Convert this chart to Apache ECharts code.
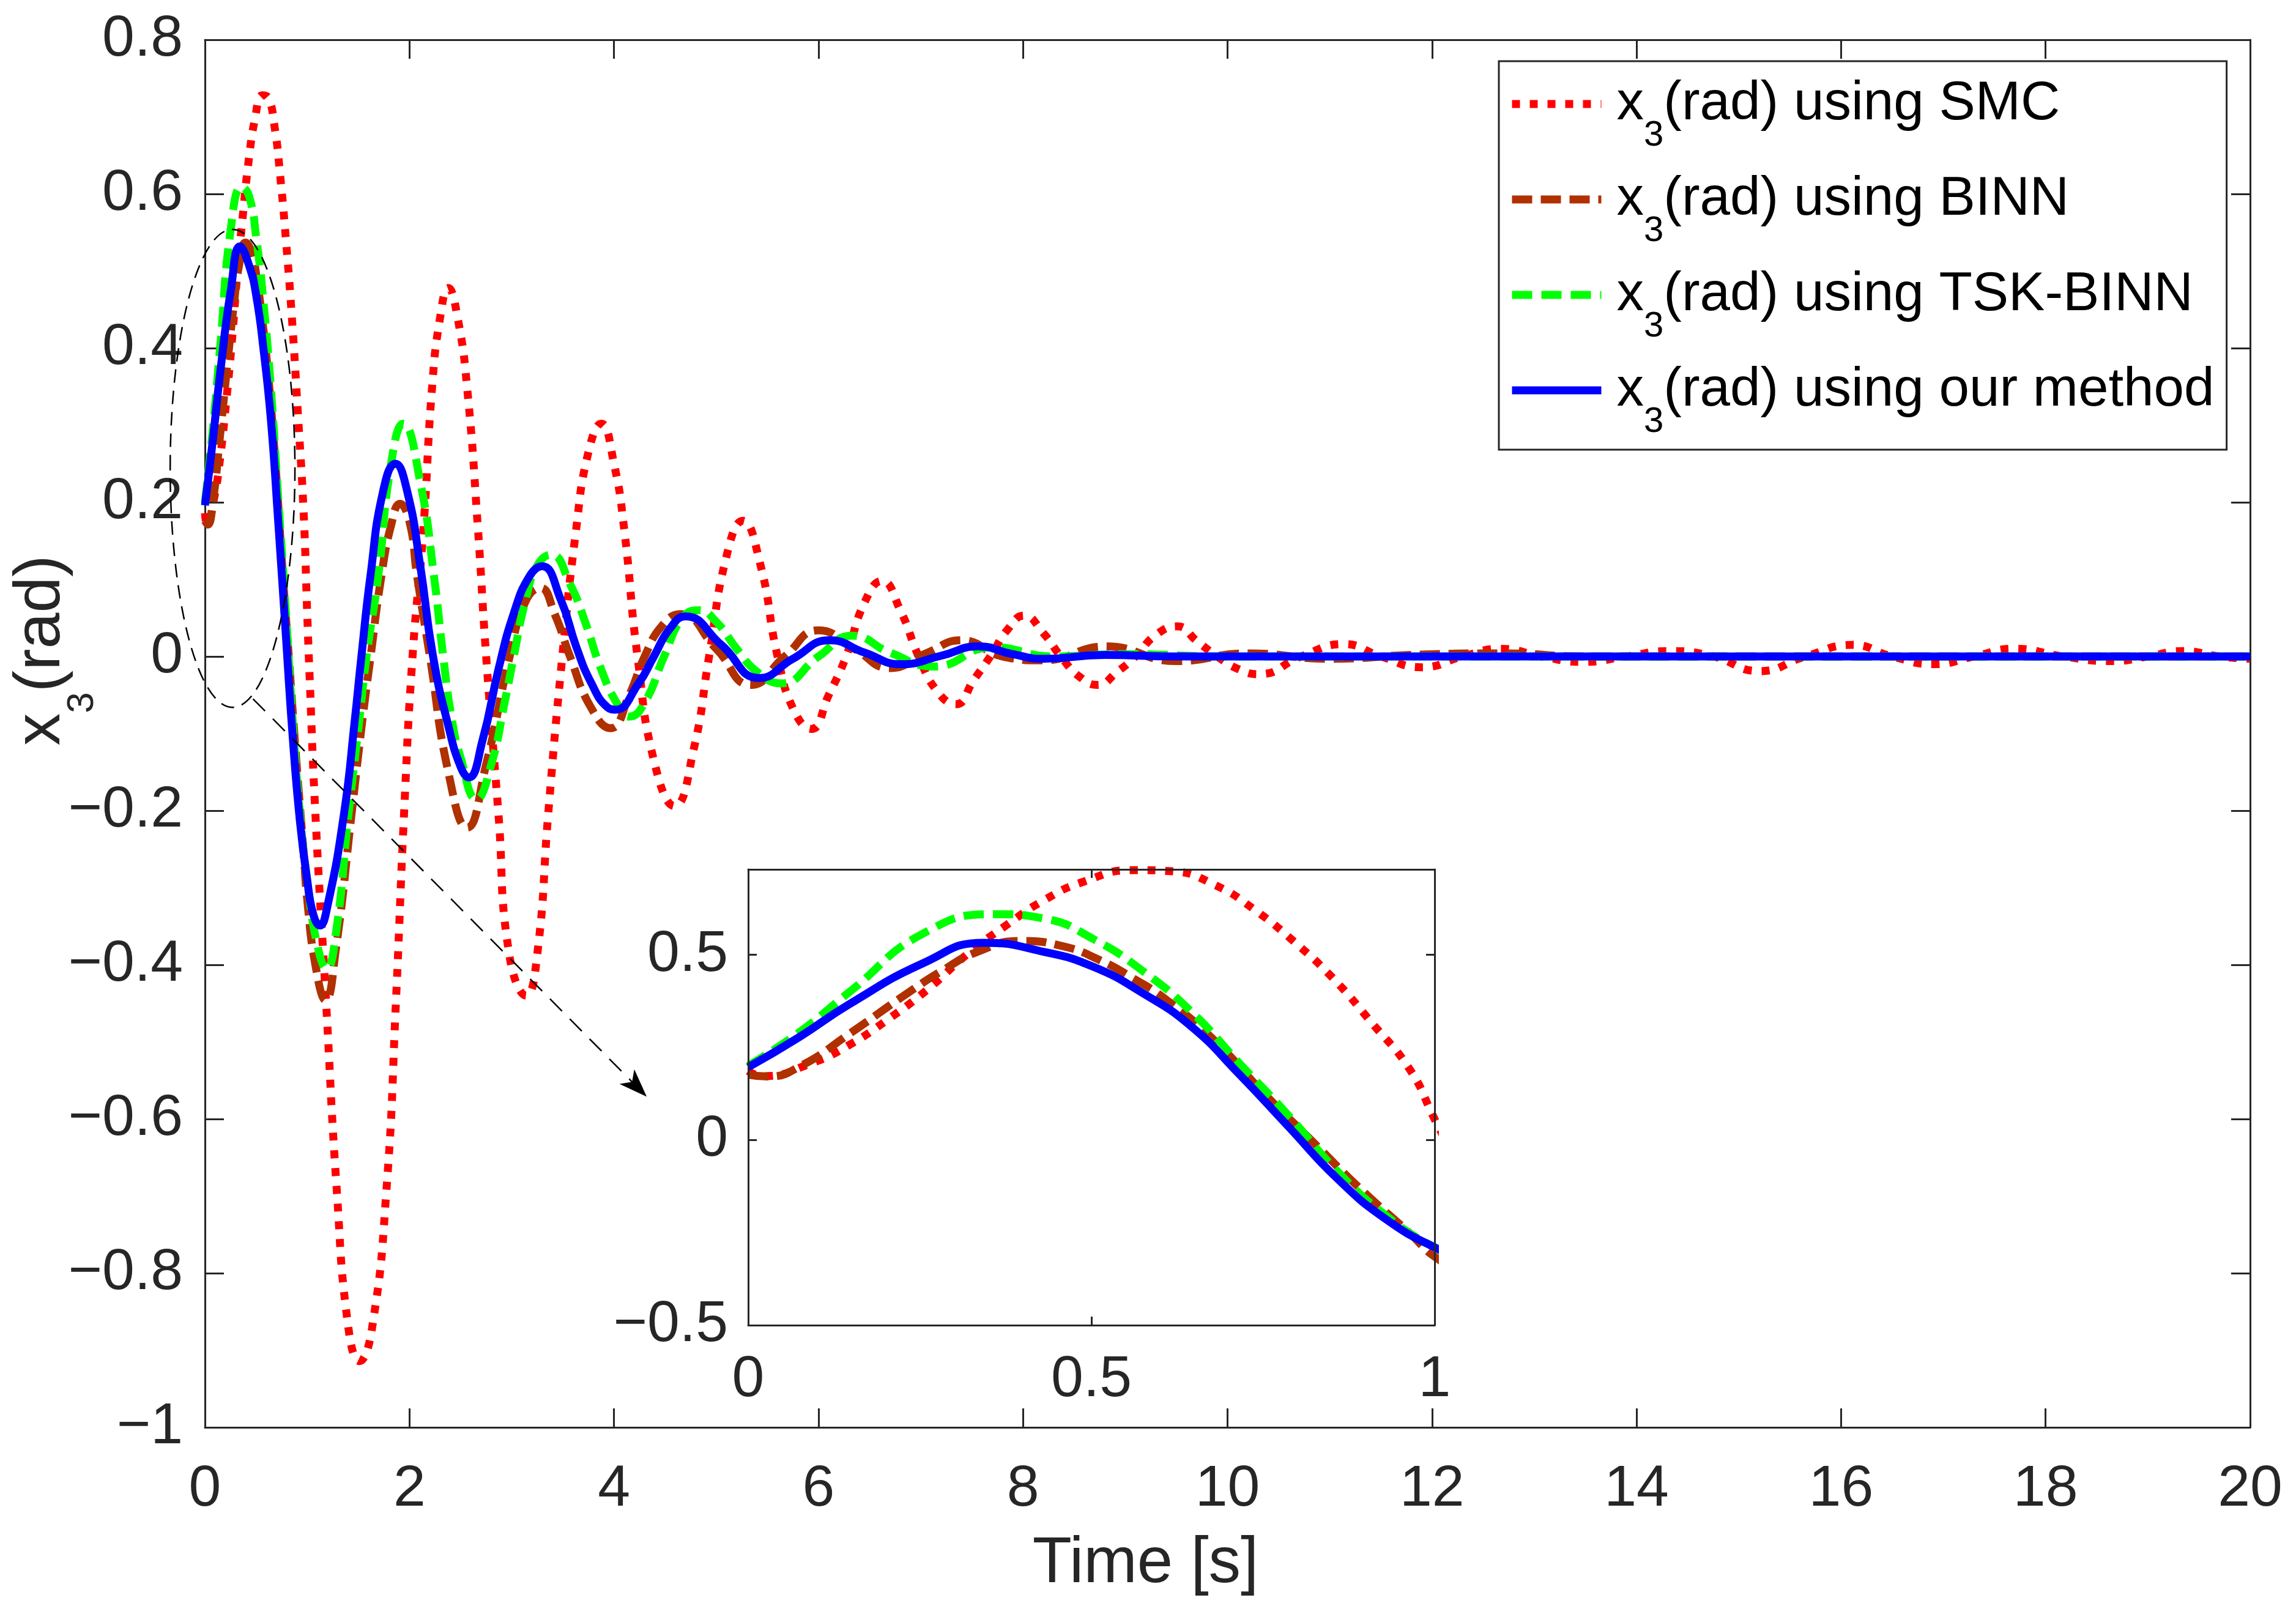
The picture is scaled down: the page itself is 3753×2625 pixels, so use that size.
<!DOCTYPE html>
<html>
<head>
<meta charset="utf-8">
<title>x3 response</title>
<script src="https://cdn.jsdelivr.net/npm/echarts@6.0.0/dist/echarts.min.js"></script>
<style>
  html, body { margin: 0; padding: 0; background: #fff; }
  #main { width: 3753px; height: 2625px; }
</style>
</head>
<body>
<div id="main"></div>
<script>
// methods shown in the legend
var methods = ['SMC', 'BINN', 'TSK-BINN', 'our method'];

// x3 [rad] over time [s]
var smc = [[0,0.186],[0.021,0.172],[0.092,0.207],[0.148,0.257],[0.205,0.327],[0.262,0.407],[0.319,0.501],
  [0.375,0.578],[0.432,0.648],[0.489,0.697],[0.56,0.728],[0.617,0.725],[0.681,0.687],[0.737,0.622],
  [0.794,0.537],[0.851,0.438],[0.908,0.317],[0.965,0.187],[1.0,0.056],[1.022,-0.021],[1.08,-0.204],
  [1.184,-0.447],[1.288,-0.69],[1.404,-0.872],[1.511,-0.914],[1.633,-0.872],[1.776,-0.69],[1.868,-0.447],
  [1.947,-0.204],[2.03,0.0],[2.136,0.165],[2.22,0.347],[2.3,0.44],[2.38,0.478],[2.47,0.44],[2.565,0.347],
  [2.67,0.165],[2.75,0.0],[2.87,-0.204],[2.975,-0.386],[3.143,-0.44],[3.25,-0.386],[3.357,-0.204],
  [3.48,-0.02],[3.63,0.165],[3.75,0.265],[3.876,0.302],[4.0,0.25],[4.1,0.165],[4.23,0.0],[4.4,-0.14],
  [4.592,-0.194],[4.78,-0.12],[4.93,0.0],[5.1,0.13],[5.259,0.176],[5.43,0.12],[5.6,0.0],[5.76,-0.07],
  [5.93,-0.094],[6.1,-0.05],[6.27,0.0],[6.45,0.07],[6.62,0.098],[6.8,0.06],[6.98,0.0],[7.16,-0.045],
  [7.344,-0.062],[7.52,-0.03],[7.68,0.0],[7.85,0.035],[8.01,0.053],[8.2,0.03],[8.37,0.0],[8.55,-0.026],
  [8.73,-0.037],[8.92,-0.02],[9.1,0.0],[9.3,0.028],[9.51,0.039],[9.7,0.02],[9.9,0.0],[10.1,-0.016],
  [10.31,-0.023],[10.72,0.0],[11.14,0.016],[11.5,0.0],[11.9,-0.014],[12.3,0.0],[12.67,0.01],[13.07,0.0],
  [13.47,-0.007],[13.9,0.0],[14.32,0.007],[14.75,0.0],[15.2,-0.019],[15.65,0.0],[16.11,0.015],[16.5,0.0],
  [16.91,-0.01],[17.3,0.0],[17.69,0.01],[18.17,0.0],[18.65,-0.006],[19.0,0.0],[19.34,0.007],[19.7,0.0],
  [20,-0.003]];

var binn = [[0,0.176],[0.028,0.171],[0.077,0.2],[0.148,0.287],[0.233,0.397],[0.283,0.457],[0.333,0.507],
  [0.397,0.537],[0.46,0.522],[0.51,0.487],[0.56,0.437],[0.61,0.377],[0.68,0.267],[0.751,0.126],
  [0.822,-0.004],[0.893,-0.134],[0.965,-0.254],[1.0,-0.315],[1.08,-0.4],[1.18,-0.446],[1.28,-0.38],
  [1.434,-0.204],[1.54,-0.082],[1.62,0.0],[1.725,0.104],[1.82,0.17],[1.907,0.198],[2.0,0.175],
  [2.075,0.104],[2.2,0.0],[2.38,-0.15],[2.564,-0.222],[2.75,-0.14],[2.98,0.0],[3.13,0.07],[3.28,0.089],
  [3.42,0.055],[3.57,0.0],[3.77,-0.065],[3.967,-0.093],[4.15,-0.05],[4.3,0.0],[4.47,0.04],[4.65,0.055],
  [5.0,0.01],[5.34,-0.037],[5.67,0.0],[6.0,0.034],[6.35,0.01],[6.7,-0.015],[7.05,0.004],[7.4,0.021],
  [7.8,0.0],[8.2,-0.005],[8.81,0.013],[9.5,-0.006],[10.2,0.004],[11.0,-0.003],[11.8,0.002],[12.7,0.004],
  [13.5,0.0],[20,0.0]];

var tskBinn = [[0,0.2],[0.074,0.29],[0.148,0.4],[0.255,0.557],[0.36,0.609],[0.432,0.597],[0.503,0.542],
  [0.574,0.457],[0.645,0.347],[0.716,0.206],[0.787,0.066],[0.858,-0.084],[0.929,-0.204],[1.0,-0.29],
  [1.1,-0.375],[1.19,-0.405],[1.28,-0.36],[1.404,-0.204],[1.51,-0.082],[1.58,0.0],[1.694,0.104],
  [1.82,0.25],[1.938,0.302],[2.106,0.226],[2.24,0.104],[2.33,0.0],[2.41,-0.078],[2.5,-0.131],
  [2.655,-0.185],[2.8,-0.14],[2.93,-0.06],[3.02,0.0],[3.13,0.07],[3.25,0.118],[3.387,0.132],
  [3.57,0.094],[3.72,0.044],[3.87,-0.015],[4.03,-0.061],[4.15,-0.078],[4.3,-0.06],[4.49,0.0],
  [4.67,0.05],[4.833,0.06],[5.0,0.045],[5.2,0.01],[5.4,-0.02],[5.635,-0.035],[6.0,0.0],[6.33,0.027],
  [6.7,0.005],[7.13,-0.013],[7.7,0.012],[8.3,0.0],[9.0,0.003],[10,0.0],[20,0.0]];

var ours = [[0,0.196],[0.074,0.277],[0.148,0.367],[0.255,0.477],[0.343,0.532],[0.432,0.507],[0.503,0.467],
  [0.574,0.397],[0.645,0.307],[0.716,0.176],[0.787,0.036],[0.858,-0.104],[0.929,-0.214],[1.0,-0.29],
  [1.06,-0.335],[1.123,-0.349],[1.196,-0.325],[1.36,-0.204],[1.466,-0.082],[1.53,0.0],[1.618,0.104],
  [1.74,0.213],[1.862,0.25],[1.98,0.213],[2.106,0.117],[2.228,0.002],[2.38,-0.09],[2.503,-0.144],
  [2.579,-0.157],[2.716,-0.108],[2.87,-0.017],[3.02,0.056],[3.174,0.104],[3.296,0.117],[3.479,0.074],
  [3.63,0.013],[3.78,-0.035],[3.937,-0.066],[4.013,-0.069],[4.24,-0.035],[4.39,0.0],[4.546,0.036],
  [4.7,0.052],[5.05,0.015],[5.42,-0.028],[5.75,-0.003],[6.11,0.021],[6.45,0.005],[6.81,-0.01],
  [7.2,0.001],[7.56,0.013],[7.9,0.003],[8.2,-0.003],[8.8,0.002],[9.5,0.0],[12,0.0],[20,0.0]];

// annotation anchors, in data units of the main plot
var ellipseCenter = [0.27, 0.244];
var ellipseRadius = [0.61, 0.31];
var arrowFrom = [0.47, -0.055];
var arrowTo = [4.32, -0.571];

var FONT = "'Liberation Sans', Arial, Helvetica, sans-serif";
var INK = '#262626';

function minus(s) { return String(s).replace('-', '\u2212'); }

function frameAxis(grid, pos, min, max, interval, tickLen, labelOpt, z) {
  return {
    type: 'value', gridIndex: grid, position: pos, min: min, max: max, interval: interval,
    z: z || 0,
    axisLine: { show: true, onZero: false, lineStyle: { color: INK, width: 3 } },
    axisTick: { show: true, inside: true, length: tickLen, lineStyle: { color: INK, width: 3 } },
    splitLine: { show: false },
    axisLabel: labelOpt || { show: false }
  };
}

var tickFont = { fontFamily: FONT, fontSize: 95, color: INK };

var xMain = frameAxis(0, 'bottom', 0, 20, 2, 31,
  Object.assign({ show: true, margin: 54, formatter: function (v) { return minus(v); } }, tickFont));
xMain.name = 'Time [s]';
xMain.nameLocation = 'middle';
xMain.nameGap = 172;
xMain.nameMoveOverlap = false;
xMain.nameTextStyle = { fontFamily: FONT, fontSize: 105, color: INK, padding: [0, 268, 0, 0] };

var yMain = frameAxis(0, 'left', -1, 0.8, 0.2, 31,
  Object.assign({ show: true, margin: 36, formatter: function (v) { return minus(Math.round(v * 10) / 10); } }, tickFont));
yMain.name = '{x|x}{s|3}{x|(rad)}';
yMain.nameLocation = 'middle';
yMain.nameGap = 214;
yMain.nameMoveOverlap = false;
yMain.nameTextStyle = {
  fontFamily: FONT, fontSize: 106, color: INK, padding: [0, 0, 0, 272],
  rich: {
    x: { fontFamily: FONT, fontSize: 106, lineHeight: 106, verticalAlign: 'top', color: INK },
    s: { fontFamily: FONT, fontSize: 62, lineHeight: 62, verticalAlign: 'top', padding: [89, 0, 0, 0], color: INK }
  }
};

var xInset = frameAxis(1, 'bottom', 0, 1, 0.5, 14,
  Object.assign({ show: true, margin: 42, formatter: function (v) { return minus(v); } }, tickFont), 14);
var yInset = frameAxis(1, 'left', -0.5, 0.73, 0.5, 14,
  Object.assign({ show: true, margin: 33, formatter: function (v) {
    var r = Math.round(v * 2) / 2;
    return Math.abs(v - r) > 1e-6 ? '' : minus(r);
  } }, tickFont), 14);

var styles = {
  'SMC': { color: '#FF0000', dash: [13, 16] },
  'BINN': { color: '#B03000', dash: [33, 14] },
  'TSK-BINN': { color: '#00FF00', dash: [33, 15] },
  'our method': { color: '#0000FF', dash: 'solid' }
};
var seriesData = { 'SMC': smc, 'BINN': binn, 'TSK-BINN': tskBinn, 'our method': ours };

var series = [];
[0, 1].forEach(function (g) {
  methods.forEach(function (m, i) {
    series.push({
      name: m, type: 'line', data: seriesData[m],
      xAxisIndex: g === 0 ? 0 : 2, yAxisIndex: g === 0 ? 0 : 2,
      symbol: 'none', smooth: 0.5, clip: true,
      z: (g === 0 ? 2 : 10) + i, animation: false,
      color: styles[m].color,
      lineStyle: { color: styles[m].color, width: 13, type: styles[m].dash, cap: 'butt' }
    });
  });
});

var option = {
  backgroundColor: '#fff',
  animation: false,
  grid: [
    { left: 335, top: 65, width: 3343, height: 2268, outerBoundsMode: 'none', containLabel: false },
    { left: 1223, top: 1421, width: 1122, height: 745, outerBoundsMode: 'none', containLabel: false,
      show: true, backgroundColor: '#fff', borderWidth: 0, z: 6 }
  ],
  xAxis: [
    xMain,
    frameAxis(0, 'top', 0, 20, 2, 31),
    xInset,
    frameAxis(1, 'top', 0, 1, 0.5, 14, null, 14)
  ],
  yAxis: [
    yMain,
    frameAxis(0, 'right', -1, 0.8, 0.2, 31),
    yInset,
    frameAxis(1, 'right', -0.5, 0.73, 0.5, 14, null, 14)
  ],
  legend: {
    data: methods,
    orient: 'vertical',
    left: 2450, top: 100,
    padding: [26, 20, 16, 15],
    itemGap: 31,
    itemWidth: 146, itemHeight: 14,
    backgroundColor: '#fff',
    borderColor: INK, borderWidth: 3,
    itemStyle: { color: 'rgba(0,0,0,0)', borderWidth: 0 },
    lineStyle: { width: 13 },
    formatter: function (name) { return '{a|x}{s|3}{x|(rad) using ' + name + '}'; },
    textStyle: {
      fontFamily: FONT, fontSize: 89, color: '#000',
      rich: {
        a: { fontFamily: FONT, fontSize: 89, lineHeight: 88, verticalAlign: 'top', padding: [0, 0, 0, 20], color: '#000' },
        x: { fontFamily: FONT, fontSize: 89, lineHeight: 88, verticalAlign: 'top', color: '#000' },
        s: { fontFamily: FONT, fontSize: 58, lineHeight: 58, verticalAlign: 'top', padding: [67, 0, 0, 0], color: '#000' }
      }
    },
    z: 20
  },
  series: series
};

var chart = echarts.init(document.getElementById('main'));
chart.setOption(option);

// dashed ellipse and arrow pointing to the zoomed inset
function px(p) { return chart.convertToPixel({ xAxisIndex: 0, yAxisIndex: 0 }, p); }
var c = px(ellipseCenter);
var ex = px([ellipseCenter[0] + ellipseRadius[0], ellipseCenter[1] + ellipseRadius[1]]);
var a0 = px(arrowFrom), a1 = px(arrowTo);
var dx = a1[0] - a0[0], dy = a1[1] - a0[1], len = Math.sqrt(dx * dx + dy * dy);
var ux = dx / len, uy = dy / len, nx = -uy, ny = ux;
var headLen = 46, headHalf = 17, notch = 34;

chart.setOption({
  graphic: [
    { type: 'ellipse', z: 30, silent: true,
      shape: { cx: c[0], cy: c[1], rx: Math.abs(ex[0] - c[0]), ry: Math.abs(ex[1] - c[1]) },
      style: { fill: 'none', stroke: '#000', lineWidth: 2.5, lineDash: [22, 13] } },
    { type: 'line', z: 30, silent: true,
      shape: { x1: a0[0], y1: a0[1], x2: a1[0] - ux * notch, y2: a1[1] - uy * notch },
      style: { stroke: '#000', lineWidth: 2.5, lineDash: [28, 18] } },
    { type: 'polygon', z: 30, silent: true,
      shape: { points: [
        [a1[0], a1[1]],
        [a1[0] - ux * headLen + nx * headHalf, a1[1] - uy * headLen + ny * headHalf],
        [a1[0] - ux * notch, a1[1] - uy * notch],
        [a1[0] - ux * headLen - nx * headHalf, a1[1] - uy * headLen - ny * headHalf]
      ] },
      style: { fill: '#000', stroke: 'none' } }
  ]
});
</script>
</body>
</html>
